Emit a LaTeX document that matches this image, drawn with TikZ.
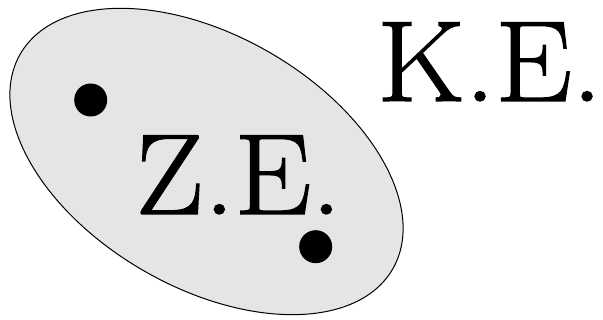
\documentclass[tikz,border=0pt]{standalone}
\usepackage{fontspec}
\newfontfamily\bigserif{Latin Modern Roman}[FakeStretch=1.06,FakeBold=1.2]
\begin{document}
\begin{tikzpicture}[x=1pt,y=1pt,
  blob/.style={draw=black,line width=1pt,fill=black!10},
  dotmark/.style={fill=black},
  bigtext/.style={inner sep=0pt,anchor=base east,font=\bigserif\fontsize{115}{120}\selectfont}]
\useasboundingbox (0,0) rectangle (603,320);
\draw[blob] (206.5,158.5) ellipse[x radius=215, y radius=126, rotate=-30];
\fill[dotmark] (90.7,220) circle[radius=16.5];
\fill[dotmark] (315.7,73.3) circle[radius=16.5];
\node[bigtext] (ze) at (341.8,106) {Z.E.};
\node[bigtext] (ke) at (602.5,219) {K.E.};
\end{tikzpicture}
\end{document}
